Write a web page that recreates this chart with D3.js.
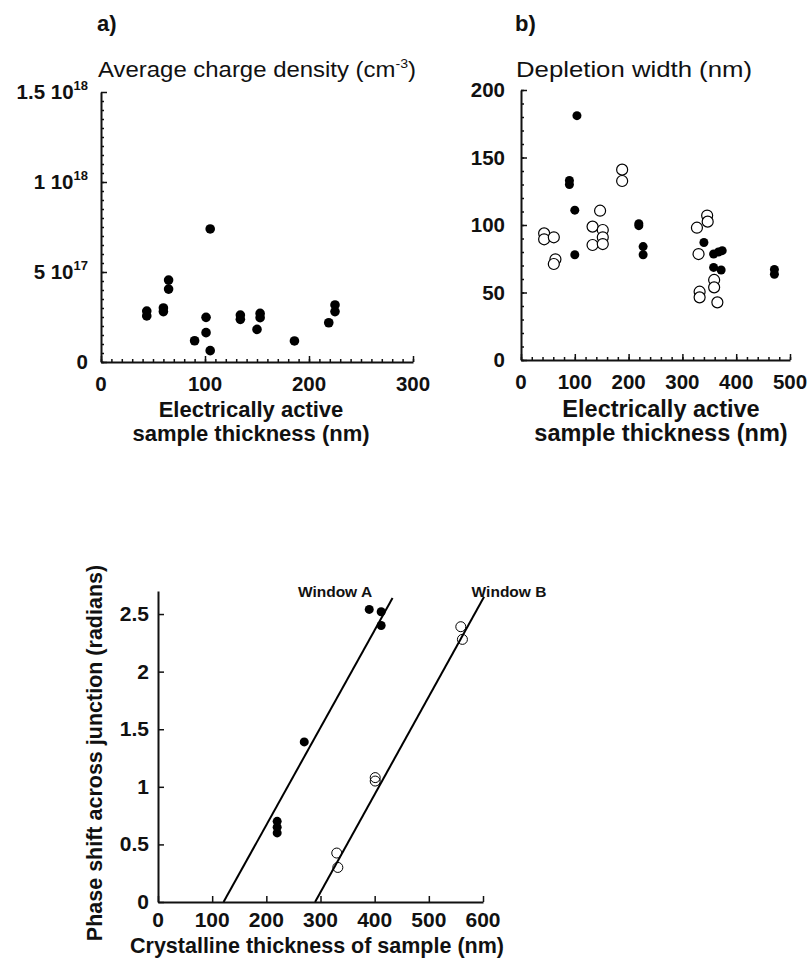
<!DOCTYPE html>
<html>
<head>
<meta charset="utf-8">
<script src="https://cdn.jsdelivr.net/npm/d3@7/dist/d3.min.js"></script>
<style>
  body { margin: 0; background: #fff; }
  text { font-family: "Liberation Sans", Arial, Helvetica, sans-serif; fill: #111; }
</style>
</head>
<body>
<svg id="chart" width="809" height="962"></svg>
<script>
// panel a: average charge density vs electrically active thickness
const thickA = [44, 44, 60, 60, 65, 65, 90, 101, 101, 105, 105, 134, 134, 150, 153, 153, 186, 219, 225, 225]
const densityA = [2.83e17, 2.56e17, 3.0e17, 2.8e17, 4.55e17, 4.05e17, 1.18e17, 2.48e17, 1.63e17, 7.39e17,
  0.63e17, 2.61e17, 2.37e17, 1.81e17, 2.7e17, 2.46e17, 1.17e17, 2.18e17, 3.17e17, 2.8e17]
const ticksA_y = [0, 5e17, 1e18, 1.5e18]
const labelsA_y = [['0', ''], ['5 10', '17'], ['1 10', '18'], ['1.5 10', '18']]

// panel b: depletion width, filled and open samples
const thickBFilled = [104, 90, 90, 100, 100, 219, 219, 227, 227, 340, 358, 367, 374, 358, 372, 471, 471]
const widthBFilled = [181, 133, 130, 111, 78, 101, 99.5, 84, 78, 87, 78.5, 80, 81, 68.6, 66.7, 67, 63.5]
const thickBOpen = [188, 188, 43, 43, 61, 64, 61, 133, 133, 147, 152, 152, 152, 327, 330, 346, 347, 332, 332, 359, 359, 365]
const widthBOpen = [141, 132.6, 93.8, 89.4, 90.9, 74.6, 71.1, 98.8, 85.2, 110.6, 96.3, 90.9, 85.9, 98, 78.5,
  107, 102.5, 50.6, 46.4, 59.3, 53.8, 42.7]

// panel c: phase shift vs crystalline thickness
const thickWinA = [270, 220, 220, 220, 390, 412, 412]
const phaseWinA = [1.39, 0.70, 0.65, 0.60, 2.54, 2.52, 2.40]
const thickWinB = [559, 562, 401, 401, 330, 332]
const phaseWinB = [2.39, 2.28, 1.08, 1.05, 0.425, 0.30]
const fitThickA = [121, 433]
const fitPhaseA = [0, 2.64]
const fitThickB = [290, 602]
const fitPhaseB = [0, 2.65]

const svg = d3.select('#chart')
const TICK_FONT = 20.5

// draws inward major + minor ticks on a left/bottom axis
function drawAxis(g, scale, orient, majors, minors) {
  const make = orient === 'left' ? d3.axisLeft : d3.axisBottom
  const minorG = g.append('g').call(
    make(scale).tickValues(minors).tickSize(-3).tickFormat('')
  )
  minorG.select('.domain').remove()
  const majorG = g.append('g').call(
    make(scale).tickValues(majors).tickSize(-6).tickSizeOuter(0).tickFormat('')
  )
  g.selectAll('.tick line').attr('stroke', '#111').attr('stroke-width', 1.5)
  majorG.select('.domain').attr('stroke', '#111').attr('stroke-width', 2)
}

// ---------- panel a ----------
const xA = d3.scaleLinear().domain([0, 300]).range([101, 413])
const yA = d3.scaleLinear().domain([0, 1.5e18]).range([362, 92])

const gA = svg.append('g').attr('id', 'panel-a')
drawAxis(gA.append('g').attr('transform', `translate(${xA(0)},0)`), yA, 'left',
  ticksA_y, d3.range(0, 1.5e18 + 1, 5e16))
drawAxis(gA.append('g').attr('transform', `translate(0,${yA(0)})`), xA, 'bottom',
  [0, 100, 200, 300], d3.range(0, 301, 10))

gA.append('text').attr('x', 97).attr('y', 31).attr('font-size', 22).attr('font-weight', 'bold').text('a)')
const titleA = gA.append('text').attr('x', 98).attr('y', 77).attr('font-size', 22)
  .attr('textLength', 318).attr('lengthAdjust', 'spacingAndGlyphs')
titleA.append('tspan').text('Average charge density (cm')
titleA.append('tspan').attr('font-size', 13).attr('dy', -9).text('-3')
titleA.append('tspan').attr('dy', 9).text(')')

gA.selectAll('.ylab')
  .data(ticksA_y)
  .join('text')
  .attr('class', 'ylab')
  .attr('x', 88)
  .attr('y', (d) => yA(d) + 7)
  .attr('text-anchor', 'end')
  .attr('font-size', TICK_FONT)
  .attr('font-weight', 'bold')
  .each(function (d, i) {
    const t = d3.select(this)
    t.append('tspan').text(labelsA_y[i][0])
    if (labelsA_y[i][1]) {
      t.append('tspan').attr('font-size', 13).attr('dy', -9).text(labelsA_y[i][1])
    }
  })

gA.selectAll('.xlab')
  .data([0, 100, 200, 300])
  .join('text')
  .attr('x', (d) => xA(d))
  .attr('y', 391)
  .attr('text-anchor', 'middle')
  .attr('font-size', TICK_FONT)
  .attr('font-weight', 'bold')
  .text((d) => d)

gA.append('text').attr('x', 251).attr('y', 417).attr('text-anchor', 'middle')
  .attr('font-size', 22).attr('font-weight', 'bold').text('Electrically active')
gA.append('text').attr('x', 251).attr('y', 441).attr('text-anchor', 'middle')
  .attr('font-size', 22).attr('font-weight', 'bold').text('sample thickness (nm)')

gA.append('g')
  .selectAll('circle')
  .data(d3.zip(thickA, densityA))
  .join('circle')
  .attr('cx', (d) => xA(d[0]))
  .attr('cy', (d) => yA(d[1]))
  .attr('r', 4.8)
  .attr('fill', '#000')

// ---------- panel b ----------
const xB = d3.scaleLinear().domain([0, 500]).range([521, 790])
const yB = d3.scaleLinear().domain([0, 200]).range([360, 90])

const gB = svg.append('g').attr('id', 'panel-b')
drawAxis(gB.append('g').attr('transform', `translate(${xB(0)},0)`), yB, 'left',
  [0, 50, 100, 150, 200], d3.range(0, 201, 10))
drawAxis(gB.append('g').attr('transform', `translate(0,${yB(0)})`), xB, 'bottom',
  [0, 100, 200, 300, 400, 500], d3.range(0, 501, 20))

gB.append('text').attr('x', 515).attr('y', 31).attr('font-size', 22).attr('font-weight', 'bold').text('b)')
gB.append('text').attr('x', 516).attr('y', 77).attr('font-size', 22)
  .attr('textLength', 236).attr('lengthAdjust', 'spacingAndGlyphs')
  .text('Depletion width (nm)')

gB.selectAll('.ylab')
  .data([0, 50, 100, 150, 200])
  .join('text')
  .attr('x', 505)
  .attr('y', (d) => yB(d) + 7)
  .attr('text-anchor', 'end')
  .attr('font-size', TICK_FONT)
  .attr('font-weight', 'bold')
  .text((d) => d)

gB.selectAll('.xlab')
  .data([0, 100, 200, 300, 400, 500])
  .join('text')
  .attr('x', (d) => xB(d))
  .attr('y', 389)
  .attr('text-anchor', 'middle')
  .attr('font-size', TICK_FONT)
  .attr('font-weight', 'bold')
  .text((d) => d)

gB.append('text').attr('x', 661).attr('y', 417).attr('text-anchor', 'middle')
  .attr('font-size', 23.5).attr('font-weight', 'bold').text('Electrically active')
gB.append('text').attr('x', 661).attr('y', 441).attr('text-anchor', 'middle')
  .attr('font-size', 23.5).attr('font-weight', 'bold').text('sample thickness (nm)')

gB.append('g')
  .selectAll('circle')
  .data(d3.zip(thickBOpen, widthBOpen))
  .join('circle')
  .attr('cx', (d) => xB(d[0]))
  .attr('cy', (d) => yB(d[1]))
  .attr('r', 5.5)
  .attr('fill', '#fff')
  .attr('stroke', '#000')
  .attr('stroke-width', 1.2)

gB.append('g')
  .selectAll('circle')
  .data(d3.zip(thickBFilled, widthBFilled))
  .join('circle')
  .attr('cx', (d) => xB(d[0]))
  .attr('cy', (d) => yB(d[1]))
  .attr('r', 4.5)
  .attr('fill', '#000')

// ---------- panel c ----------
const xC = d3.scaleLinear().domain([0, 600]).range([158, 483])
const yC = d3.scaleLinear().domain([0, 2.7]).range([902, 591])

const gC = svg.append('g').attr('id', 'panel-c')
gC.append('g').attr('transform', `translate(${xC(0)},0)`)
  .call(d3.axisLeft(yC).tickValues([0, 0.5, 1, 1.5, 2, 2.5]).tickSize(-6).tickSizeOuter(0).tickFormat(''))
gC.append('g').attr('transform', `translate(0,${yC(0)})`)
  .call(d3.axisBottom(xC).tickValues([0, 100, 200, 300, 400, 500, 600]).tickSize(-6).tickSizeOuter(0).tickFormat(''))
gC.selectAll('.tick line').attr('stroke', '#111').attr('stroke-width', 1.5)
gC.selectAll('.domain').attr('stroke', '#111').attr('stroke-width', 2)

gC.selectAll('.ylab')
  .data([0, 0.5, 1, 1.5, 2, 2.5])
  .join('text')
  .attr('x', 149)
  .attr('y', (d) => yC(d) + 7)
  .attr('text-anchor', 'end')
  .attr('font-size', 21)
  .attr('font-weight', 'bold')
  .text((d) => d)

gC.selectAll('.xlab')
  .data([0, 100, 200, 300, 400, 500, 600])
  .join('text')
  .attr('x', (d) => xC(d))
  .attr('y', 927)
  .attr('text-anchor', 'middle')
  .attr('font-size', 21)
  .attr('font-weight', 'bold')
  .text((d) => d)

gC.append('text').attr('x', 317).attr('y', 953).attr('text-anchor', 'middle')
  .attr('font-size', 21.5).attr('font-weight', 'bold').text('Crystalline thickness of sample (nm)')
gC.append('text')
  .attr('transform', 'translate(102,753) rotate(-90)')
  .attr('text-anchor', 'middle')
  .attr('font-size', 21.5)
  .attr('font-weight', 'bold')
  .text('Phase shift across junction (radians)')

gC.append('text').attr('x', 335).attr('y', 597).attr('text-anchor', 'middle')
  .attr('font-size', 15.5).attr('font-weight', 'bold').text('Window A')
gC.append('text').attr('x', 509).attr('y', 597).attr('text-anchor', 'middle')
  .attr('font-size', 15.5).attr('font-weight', 'bold').text('Window B')

const line = d3.line().x((d) => xC(d[0])).y((d) => yC(d[1]))
gC.append('path').attr('d', line(d3.zip(fitThickA, fitPhaseA)))
  .attr('fill', 'none').attr('stroke', '#000').attr('stroke-width', 2)
gC.append('path').attr('d', line(d3.zip(fitThickB, fitPhaseB)))
  .attr('fill', 'none').attr('stroke', '#000').attr('stroke-width', 2)

gC.append('g')
  .selectAll('circle')
  .data(d3.zip(thickWinA, phaseWinA))
  .join('circle')
  .attr('cx', (d) => xC(d[0]))
  .attr('cy', (d) => yC(d[1]))
  .attr('r', 4.5)
  .attr('fill', '#000')

gC.append('g')
  .selectAll('circle')
  .data(d3.zip(thickWinB, phaseWinB))
  .join('circle')
  .attr('cx', (d) => xC(d[0]))
  .attr('cy', (d) => yC(d[1]))
  .attr('r', 5)
  .attr('fill', 'none')
  .attr('stroke', '#000')
  .attr('stroke-width', 1)
</script>
</body>
</html>
